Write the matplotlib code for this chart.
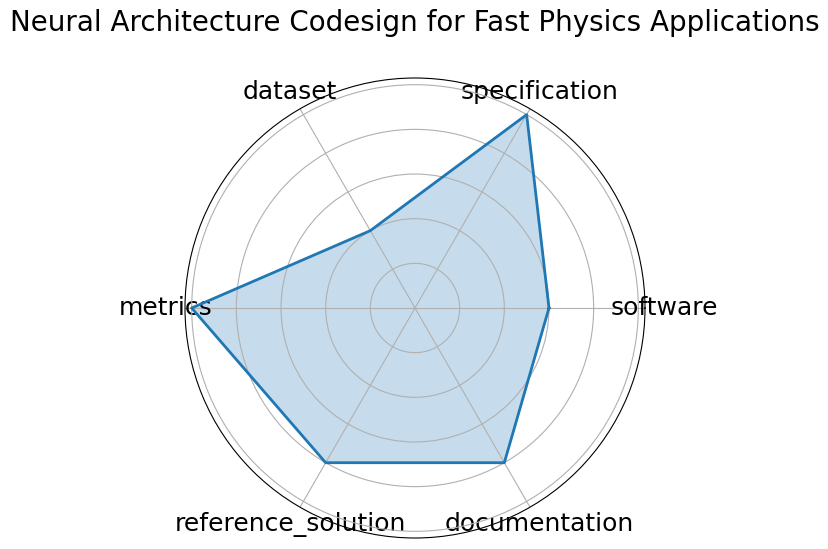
import numpy as np
import matplotlib
matplotlib.use("Agg")
import matplotlib.pyplot as plt

categories = ["software", "specification", "dataset", "metrics", "reference_solution", "documentation"]
values = [3, 5, 2, 5, 4, 4]
title = "Neural Architecture Codesign for Fast Physics Applications"

n = len(categories)
angles = np.linspace(0, 2 * np.pi, n, endpoint=False).tolist()
vals = values + values[:1]
angs = angles + angles[:1]

fig = plt.figure(figsize=(8.29, 5.49), dpi=100)
ax = fig.add_axes([185 / 829, 11 / 549, 460 / 829, 460 / 549], polar=True)
ax.plot(angs, vals, color="#1f77b4", linewidth=2)
ax.fill(angs, vals, color="#1f77b4", alpha=0.25)
ax.set_xticks(angles)
ax.set_xticklabels(categories, fontsize=18)
ax.set_yticklabels([])
fig.text(415 / 829, 1 - 23 / 549, title, fontsize=20, ha="center", va="center")
fig.savefig("out.png", dpi=100)
